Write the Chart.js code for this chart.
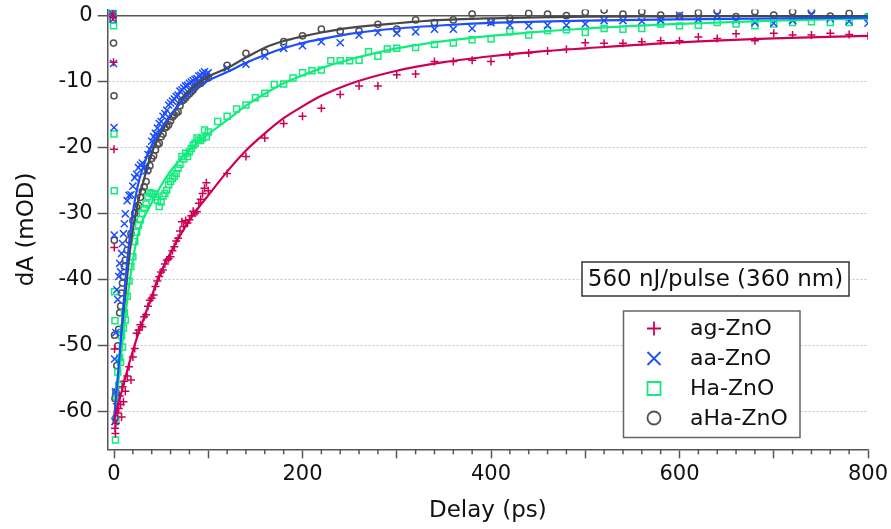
<!DOCTYPE html>
<html>
<head>
<meta charset="utf-8">
<script src="https://cdn.jsdelivr.net/npm/chart.js@4.4.1/dist/chart.umd.min.js"></script>
<style>
  html, body { margin: 0; padding: 0; background: #fff; }
</style>
</head>
<body>
<canvas id="myChart" width="891" height="529"></canvas>
<script>
// delays (ps)
const tEarly = [-1.5, -1, -0.5, 0, 0.3, 0.6, 1, 1.5, 2, 3, 4, 5, 6, 7, 8, 9, 10, 11, 12,
  14, 16, 18, 20, 22, 24, 26, 28, 30, 32, 34, 36, 38, 40, 42, 44, 46, 48, 50, 52, 54, 56,
  58, 60, 62, 64, 66, 68, 70, 72, 74, 76, 78, 80, 82, 84, 86, 88, 90, 92, 94, 96, 98, 100];
const tLate = [120, 140, 160, 180, 200, 220, 240, 260, 280, 300, 320, 340, 360, 380, 400,
  420, 440, 460, 480, 500, 520, 540, 560, 580, 600, 620, 640, 660, 680, 700, 720, 740, 760, 780, 800];
const tHaLate = [110, 120, 130, 140, 150, 160, 170, 180, 190, 200, 210, 220, 230, 240, 250,
  260, 270, 280, 290, 300, 320, 340, 360, 380, 400, 420, 440, 460, 480, 500, 520, 540, 560,
  580, 600, 620, 640, 660, 680, 700, 720, 740, 760, 780, 800];
const tFit = [0, 2, 5, 8, 11, 14, 17, 20, 25, 30, 38, 45, 50, 60, 70, 80, 90, 100, 120, 140,
  160, 180, 200, 220, 250, 300, 350, 400, 450, 500, 600, 700, 800];

// axis ticks
const delayTicks = [0, 100, 200, 300, 400, 500, 600, 700, 800];
const dATicks = [-60, -50, -40, -30, -20, -10, 0];

// dA (mOD)
const agEarly = [0.3, -0.2, -7.0, -20.2, -35.1, -50.5, -62.5, -63.3, -61.8, -58.8, -60.2, -59.5,
  -57.6, -58.9, -60.8, -56.2, -58.5, -55.4, -56.9, -54.6, -53.2, -55.2, -51.7, -50.4, -48.1,
  -47.6, -46.8, -47.1, -45.6, -45.3, -44.0, -43.1, -42.8, -42.3, -41.0, -40.2, -39.5, -38.8,
  -38.5, -37.6, -37.0, -36.8, -36.5, -35.6, -35.0, -34.1, -33.7, -32.6, -31.2, -31.9, -31.0,
  -31.4, -30.9, -30.3, -29.6, -29.9, -29.7, -28.4, -27.8, -26.9, -26.1, -25.3, -26.5];
const agLate = [-23.9, -21.3, -18.5, -16.3, -15.2, -14.0, -11.9, -10.6, -10.6, -8.9, -8.8, -6.9,
  -6.9, -6.7, -6.9, -5.9, -5.6, -5.3, -5.05, -4.05, -4.15, -4.15, -3.9, -3.75, -3.75, -3.2,
  -3.4, -2.7, -3.75, -2.6, -2.9, -2.9, -2.6, -2.8, -3.0];
const agFit = [-61.5, -60.2, -58.5, -57.0, -55.3, -53.8, -52.2, -50.8, -48.5, -46.5, -43.3,
  -40.5, -38.8, -35.9, -33.3, -31.0, -29.0, -27.2, -23.6, -20.4, -17.8, -15.5, -13.7, -12.1,
  -10.3, -8.3, -7.0, -6.1, -5.4, -4.9, -4.0, -3.4, -3.0];

const aaEarly = [0.3, -0.5, -7.2, -16.9, -33.2, -52.0, -61.5, -57.0, -48.0, -41.5, -43.0, -39.5,
  -37.5, -38.8, -36.0, -34.5, -33.0, -31.5, -30.0, -28.0, -27.2, -27.1, -25.8, -24.5, -24.0,
  -23.0, -22.6, -22.3, -23.0, -23.5, -21.0, -20.2, -19.0, -18.3, -17.8, -17.0, -16.3, -16.0,
  -15.2, -14.8, -14.3, -13.5, -13.2, -12.9, -12.6, -12.2, -12.0, -11.4, -11.2, -10.9, -10.6,
  -10.5, -10.2, -10.0, -9.8, -9.6, -9.5, -9.1, -9.0, -8.7, -8.45, -8.8, -8.6];
const aaLate = [-7.9, -7.3, -6.1, -4.9, -4.5, -3.9, -4.05, -2.9, -2.5, -2.6, -2.4, -2.0, -2.0,
  -1.9, -1.0, -1.4, -1.5, -1.4, -1.4, -1.2, -0.7, -0.7, -0.8, -0.7, 0.1, -0.5, 0.1, -0.6,
  -1.0, -1.1, -0.7, 0.3, -0.4, -0.8, -1.1];
const aaFit = [-61.5, -58.0, -53.0, -47.5, -42.0, -37.2, -33.2, -29.8, -25.9, -23.3, -20.2,
  -18.3, -17.1, -15.0, -13.3, -11.8, -10.6, -9.8, -8.5, -7.1, -5.9, -4.9, -4.1, -3.5, -2.7,
  -1.9, -1.4, -1.05, -0.85, -0.7, -0.5, -0.35, -0.25];

const haEarly = [0.9, 0.3, -1.5, -17.9, -26.5, -41.8, -46.2, -64.3, -61.3, -57.8, -54.0, -56.0,
  -51.8, -52.5, -48.5, -50.2, -47.3, -45.0, -46.1, -42.5, -40.2, -38.0, -36.5, -34.2, -32.8,
  -31.7, -30.9, -29.9, -29.2, -28.5, -27.4, -26.8, -26.9, -27.0, -27.4, -27.9, -28.9, -28.2,
  -27.3, -26.9, -26.4, -25.6, -25.1, -24.6, -24.3, -23.9, -23.1, -22.5, -21.3, -21.7, -20.8,
  -21.3, -20.6, -20.1, -19.6, -19.3, -18.5, -18.8, -18.9, -18.5, -17.3, -18.3, -17.6];
const haLate = [-16.0, -15.2, -14.1, -13.5, -12.4, -11.7, -10.4, -10.3, -9.4, -8.6, -8.3, -8.2,
  -6.8, -6.8, -6.8, -6.7, -5.4, -6.1, -5.0, -4.9, -4.8, -4.3, -4.1, -3.6, -3.5, -2.4, -2.9,
  -2.2, -2.1, -2.5, -1.9, -2.0, -1.9, -1.2, -1.5, -1.4, -1.0, -1.2, -1.5, -1.2, -1.0, -0.86,
  -1.0, -1.0, -0.2];
const haFit = [-61.5, -58.8, -55.0, -50.8, -46.8, -43.1, -39.8, -37.0, -33.4, -31.1, -28.9,
  -27.0, -25.7, -23.5, -21.8, -20.3, -19.0, -17.9, -15.8, -13.6, -11.8, -10.2, -9.0, -7.9,
  -6.6, -4.9, -3.8, -3.0, -2.4, -1.9, -1.2, -0.7, -0.4];

const ahaEarly = [0.4, -0.6, -4.1, -12.1, -34.0, -48.4, -58.0, -61.0, -57.0, -53.0, -50.0, -47.5,
  -45.0, -44.0, -42.0, -40.5, -39.5, -38.0, -37.0, -35.5, -34.0, -33.0, -31.0, -29.9, -29.0,
  -28.7, -27.5, -26.6, -25.9, -25.1, -23.4, -22.7, -21.6, -21.2, -20.3, -19.5, -19.3, -18.3,
  -17.9, -17.0, -16.8, -16.5, -15.9, -15.3, -15.0, -14.7, -14.5, -13.6, -12.9, -12.7, -12.4,
  -12.0, -11.8, -11.5, -11.2, -10.8, -10.5, -10.3, -10.2, -9.9, -9.6, -9.2, -9.4];
const ahaLate = [-7.5, -5.66, -5.5, -3.9, -3.0, -2.0, -2.3, -2.3, -1.26, -2.0, -0.6, -1.0, -0.6,
  0.3, -0.86, -0.35, 0.4, 0.3, 0.05, 0.56, 0.9, 0.3, 0.65, 0.15, 0.0, 0.5, 0.8, -0.1, 0.65,
  0.15, 0.65, 0.8, 0.0, 0.4, -0.1];
const ahaFit = [-61.5, -58.3, -54.0, -49.0, -44.0, -39.5, -35.5, -32.3, -28.5, -25.7, -21.7,
  -19.0, -17.7, -15.2, -13.1, -11.4, -10.1, -9.2, -7.9, -6.3, -4.8, -3.8, -3.1, -2.5, -1.8,
  -1.1, -0.6, -0.35, -0.2, -0.1, -0.05, 0, 0];

const seriesNames = ['ag-ZnO', 'aa-ZnO', 'Ha-ZnO', 'aHa-ZnO'];
const annotationText = '560 nJ/pulse (360 nm)';

const pts = (xs, ys) => xs.map((x, i) => ({ x: x, y: ys[i] }));

const red = 'rgb(206, 0, 84)';
const blue = 'rgb(28, 78, 255)';
const green = 'rgb(18, 236, 124)';
const grey = 'rgb(80, 80, 80)';
const FONT = "'DejaVu Sans', sans-serif";

function markers(label, data, color, style, radius) {
  return {
    label: label, data: data, showLine: false, order: 2,
    pointStyle: style, pointRadius: radius, pointHoverRadius: radius,
    borderColor: color, backgroundColor: 'rgba(0,0,0,0)', pointBorderWidth: 1.5
  };
}
function fitLine(data, color) {
  return {
    label: '', data: data, showLine: true, order: 1, pointRadius: 0,
    borderColor: color, borderWidth: 2.2, cubicInterpolationMode: 'monotone', fit: true
  };
}

// little marker painter for the legend
function paintMarker(ctx, style, x, y, r) {
  ctx.beginPath();
  if (style === 'cross') {
    ctx.moveTo(x - r, y); ctx.lineTo(x + r, y);
    ctx.moveTo(x, y - r); ctx.lineTo(x, y + r);
  } else if (style === 'crossRot') {
    ctx.moveTo(x - r, y - r); ctx.lineTo(x + r, y + r);
    ctx.moveTo(x - r, y + r); ctx.lineTo(x + r, y - r);
  } else if (style === 'rect') {
    ctx.rect(x - r, y - r, 2 * r, 2 * r);
  } else {
    ctx.arc(x, y, r, 0, Math.PI * 2);
  }
  ctx.stroke();
}

const extras = {
  id: 'extras',
  afterDraw(chart) {
    const ctx = chart.ctx;
    const xs = chart.scales.x;
    ctx.save();
    // minor ticks every 20 ps
    ctx.strokeStyle = '#555';
    ctx.lineWidth = 1.5;
    for (let v = 20; v < 800; v += 20) {
      if (v % 100 === 0) continue;
      const px = xs.getPixelForValue(v);
      ctx.beginPath();
      ctx.moveTo(px, xs.top);
      ctx.lineTo(px, xs.top + 5);
      ctx.stroke();
    }

    // pump fluence label
    ctx.fillStyle = '#fff';
    ctx.fillRect(582, 262, 267, 34);
    ctx.strokeStyle = '#333';
    ctx.lineWidth = 1.5;
    ctx.strokeRect(582, 262, 267, 34);
    ctx.fillStyle = '#111';
    ctx.font = '23px ' + FONT;
    ctx.textAlign = 'center';
    ctx.textBaseline = 'middle';
    ctx.fillText(annotationText, 715.5, 280);

    // legend
    ctx.fillStyle = '#fff';
    ctx.fillRect(623.5, 311, 176.5, 126.5);
    ctx.strokeStyle = '#666';
    ctx.strokeRect(623.5, 311, 176.5, 126.5);
    const rows = [328.5, 358.5, 388.5, 418];
    const sizes = { cross: 7, crossRot: 6.5, rect: 6.5, circle: 6.5 };
    ctx.font = '22px ' + FONT;
    ctx.textAlign = 'left';
    chart.data.datasets.filter(d => !d.fit).forEach((d, i) => {
      ctx.strokeStyle = d.borderColor;
      ctx.lineWidth = 1.8;
      paintMarker(ctx, d.pointStyle, 654, rows[i], sizes[d.pointStyle]);
      ctx.fillStyle = '#111';
      ctx.fillText(d.label, 690, rows[i] + 1);
    });
    ctx.restore();
  }
};

new Chart(document.getElementById('myChart').getContext('2d'), {
  type: 'scatter',
  data: {
    datasets: [
      markers(seriesNames[0], pts(tEarly.concat(tLate), agEarly.concat(agLate)), red, 'cross', 4),
      markers(seriesNames[1], pts(tEarly.concat(tLate), aaEarly.concat(aaLate)), blue, 'crossRot', 5),
      markers(seriesNames[2], pts(tEarly.concat(tHaLate), haEarly.concat(haLate)), green, 'rect', 4.2),
      markers(seriesNames[3], pts(tEarly.concat(tLate), ahaEarly.concat(ahaLate)), grey, 'circle', 3.1),
      fitLine(pts(tFit, agFit), red),
      fitLine(pts(tFit, aaFit), blue),
      fitLine(pts(tFit, haFit), green),
      fitLine(pts(tFit, ahaFit), 'rgb(72, 72, 72)')
    ]
  },
  options: {
    responsive: false,
    animation: false,
    events: [],
    layout: { padding: { top: 9.4, right: 23, left: 0, bottom: 0 } },
    plugins: { legend: { display: false }, tooltip: { enabled: false } },
    scales: {
      x: {
        type: 'linear', min: -6.7, max: 800,
        afterBuildTicks: (s) => { s.ticks = delayTicks.map(v => ({ value: v })); },
        afterFit: (s) => { s.height = 79.7; s.paddingLeft = 0; s.paddingRight = 0; },
        ticks: {
          autoSkip: false, maxRotation: 0, padding: 4,
          color: '#111', font: { family: FONT, size: 21 },
          callback: (v) => (v % 200 === 0 ? String(v) : '')
        },
        grid: { drawOnChartArea: false, tickLength: 9, tickColor: '#555', tickWidth: 1.5 },
        border: { color: '#555', width: 1.5 },
        title: { display: true, text: 'Delay (ps)', color: '#111',
          font: { family: FONT, size: 23 }, padding: { top: 0, bottom: 4 } }
      },
      y: {
        type: 'linear', min: -65.7, max: 1,
        afterBuildTicks: (s) => { s.ticks = dATicks.map(v => ({ value: v })); },
        afterFit: (s) => { s.width = 107.7; s.paddingTop = 0; s.paddingBottom = 0; },
        ticks: {
          padding: 5,
          color: '#111', font: { family: FONT, size: 21 }
        },
        grid: {
          color: (c) => (c.tick && c.tick.value === 0 ? '#555' : '#c4c4c4'),
          lineWidth: (c) => (c.tick && c.tick.value === 0 ? 1.5 : 1),
          tickLength: 10, tickColor: '#555', tickWidth: 1.5
        },
        border: {
          color: '#555', width: 1.5,
          dash: (c) => (c.tick && c.tick.value === 0 ? [] : [2, 2])
        },
        title: { display: true, text: 'dA (mOD)', color: '#111',
          font: { family: FONT, size: 23 }, padding: { top: 13, bottom: 0 } }
      }
    }
  },
  plugins: [extras]
});
</script>
</body>
</html>
